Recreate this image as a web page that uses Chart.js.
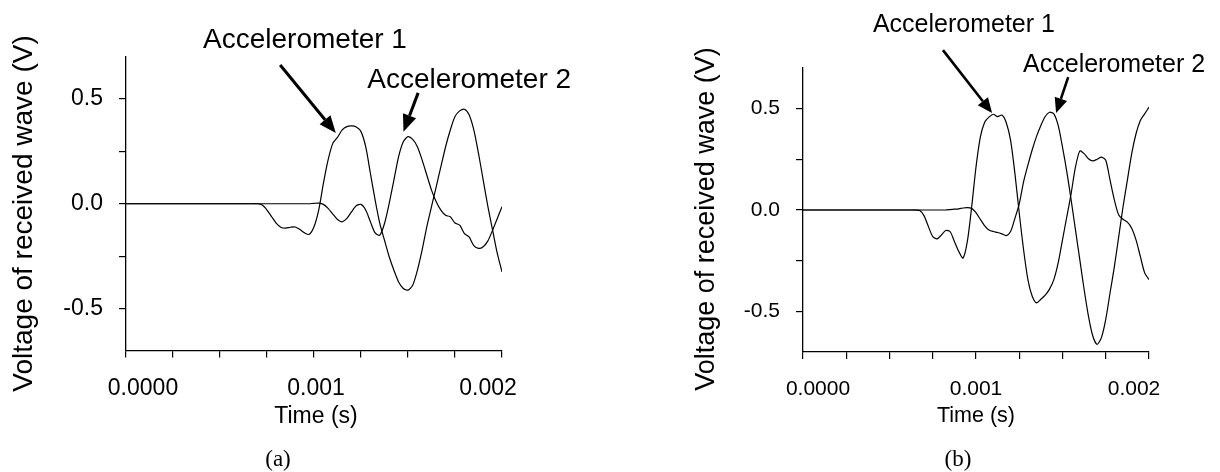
<!DOCTYPE html>
<html>
<head>
<meta charset="utf-8">
<script src="https://cdn.jsdelivr.net/npm/chart.js@4.4.0/dist/chart.umd.min.js"></script>
<style>
  body { margin: 0; background: #fff; width: 1220px; height: 472px; position: relative; overflow: hidden; }
  .box { position: absolute; top: 0; height: 472px; }
  #boxA { left: 0; width: 600px; }
  #boxB { left: 600px; width: 620px; }
</style>
</head>
<body>
<div class="box" id="boxA"><canvas id="chartA"></canvas></div>
<div class="box" id="boxB"><canvas id="chartB"></canvas></div>
<script>
// time samples (s), shared by both panels
var timeGrid = [0, 0.0006, 0.000625, 0.00065, 0.000675, 0.0007, 0.000725, 0.00075, 0.000775, 0.0008,
  0.000825, 0.00085, 0.000875, 0.0009, 0.000925, 0.00095, 0.000975, 0.001, 0.001025, 0.00105,
  0.001075, 0.0011, 0.001125, 0.00115, 0.001175, 0.0012, 0.001225, 0.00125, 0.001275, 0.0013,
  0.001325, 0.00135, 0.001375, 0.0014, 0.001425, 0.00145, 0.001475, 0.0015, 0.001525, 0.00155,
  0.001575, 0.0016, 0.001625, 0.00165, 0.001675, 0.0017, 0.001725, 0.00175, 0.001775, 0.0018,
  0.001825, 0.00185, 0.001875, 0.0019, 0.001925, 0.00195, 0.001975, 0.002];

// panel (a)
var voltA1 = [0, 0, 0, 0, 0, 0, -0.006, -0.03, -0.062, -0.094,
  -0.113, -0.116, -0.112, -0.111, -0.123, -0.139, -0.146, -0.11, -0.03, 0.097,
  0.209, 0.288, 0.317, 0.352, 0.368, 0.371, 0.366, 0.344, 0.272, 0.145,
  0.018, -0.094, -0.174, -0.253, -0.317, -0.373, -0.404, -0.412, -0.389, -0.317,
  -0.221, -0.11, -0.014, 0.081, 0.177, 0.272, 0.352, 0.416, 0.443, 0.451,
  0.424, 0.352, 0.24, 0.113, -0.014, -0.126, -0.237, -0.325];
var voltA2 = [0, 0, 0, 0, 0, 0, 0, 0, 0, 0,
  0, 0, 0, 0, 0, 0, 0, 0.002, 0.003, -0.003,
  -0.022, -0.049, -0.075, -0.086, -0.07, -0.038, -0.01, -0.003, -0.03, -0.086,
  -0.139, -0.15, -0.094, 0.002, 0.113, 0.225, 0.296, 0.32, 0.307, 0.272,
  0.209, 0.137, 0.065, 0.01, -0.03, -0.055, -0.062, -0.092, -0.102, -0.142,
  -0.158, -0.2, -0.213, -0.205, -0.177, -0.126, -0.07, -0.014];

// panel (b)
var voltB1 = [0, 0, 0, 0, -0.003, -0.029, -0.082, -0.131, -0.142, -0.123,
  -0.101, -0.106, -0.155, -0.204, -0.237, -0.155, 0.016, 0.212, 0.359, 0.433,
  0.458, 0.472, 0.46, 0.468, 0.43, 0.343, 0.18, -0.016, -0.196, -0.343,
  -0.425, -0.458, -0.44, -0.42, -0.39, -0.343, -0.261, -0.147, -0.033, 0.082,
  0.212, 0.291, 0.278, 0.253, 0.242, 0.25, 0.261, 0.245, 0.147, 0.049,
  -0.025, -0.046, -0.06, -0.09, -0.147, -0.229, -0.31, -0.343];
var voltB2 = [0, 0, 0, 0, 0, 0, 0, 0, 0, 0,
  0, 0.002, 0.004, 0.006, 0.01, 0.012, 0.008, -0.013, -0.046, -0.078,
  -0.098, -0.106, -0.111, -0.118, -0.126, -0.106, -0.041, 0.03, 0.139, 0.221,
  0.297, 0.363, 0.417, 0.461, 0.482, 0.474, 0.417, 0.31, 0.188, 0.049,
  -0.098, -0.245, -0.392, -0.523, -0.621, -0.662, -0.629, -0.539, -0.408, -0.278,
  -0.131, 0.016, 0.147, 0.278, 0.376, 0.441, 0.474, 0.507];

// axes
var xTickValues = [0, 0.00025, 0.0005, 0.00075, 0.001, 0.00125, 0.0015, 0.00175, 0.002];
var xLabelValues = [0, 0.001, 0.002];
var xLabelTexts = ['0.0000', '0.001', '0.002'];
var yTickValues = [-0.5, -0.25, 0, 0.25, 0.5];
var yLabelValues = [-0.5, 0, 0.5];
var yLabelTexts = ['-0.5', '0.0', '0.5'];

var SANS = '"Liberation Sans", Arial, sans-serif';
var SERIF = '"Liberation Serif", "Times New Roman", serif';

function arrow(ctx, x0, y0, x1, y1, lw, headLen, headHalf) {
  var ang = Math.atan2(y1 - y0, x1 - x0);
  var bx = x1 - headLen * Math.cos(ang), by = y1 - headLen * Math.sin(ang);
  ctx.lineWidth = lw;
  ctx.beginPath(); ctx.moveTo(x0, y0); ctx.lineTo(bx, by); ctx.stroke();
  ctx.beginPath();
  ctx.moveTo(x1, y1);
  ctx.lineTo(bx + headHalf * Math.sin(ang), by - headHalf * Math.cos(ang));
  ctx.lineTo(bx - headHalf * Math.sin(ang), by + headHalf * Math.cos(ang));
  ctx.closePath(); ctx.fill();
}

// texts, arrows and captions drawn on top of each panel
var decorPlugin = {
  id: 'decor',
  afterDraw: function (chart, args, o) {
    var ctx = chart.ctx, xs = chart.scales.x, ys = chart.scales.y;
    ctx.save();
    ctx.fillStyle = '#000'; ctx.strokeStyle = '#000';
    // x tick labels
    ctx.font = o.tickSize + 'px ' + SANS;
    ctx.textAlign = 'center'; ctx.textBaseline = 'alphabetic';
    xLabelValues.forEach(function (v, i) {
      ctx.fillText(xLabelTexts[i], xs.getPixelForValue(v) + o.xLabelShift[i], xs.top + o.xLabelDrop);
    });
    // x title
    ctx.font = o.xTitleSize + 'px ' + SANS;
    ctx.fillText('Time (s)', (xs.left + xs.right) / 2 + o.xTitleShift, xs.top + o.xTitleDrop);
    // y title
    ctx.save();
    ctx.translate(o.yTitleX, o.yTitleY);
    ctx.rotate(-Math.PI / 2);
    ctx.font = o.yTitleSize + 'px ' + SANS;
    ctx.textBaseline = 'middle';
    ctx.fillText('Voltage of received wave (V)', 0, 0);
    ctx.restore();
    // annotations
    ctx.font = o.noteSize + 'px ' + SANS;
    ctx.textAlign = 'left';
    o.notes.forEach(function (n) {
      ctx.fillText(n.text, xs.getPixelForValue(n.t), ys.getPixelForValue(n.v));
    });
    o.arrows.forEach(function (a) {
      arrow(ctx, xs.getPixelForValue(a.from[0]), ys.getPixelForValue(a.from[1]),
        xs.getPixelForValue(a.to[0]), ys.getPixelForValue(a.to[1]), o.arrowWidth, o.headLen, o.headHalf);
    });
    // caption
    ctx.font = o.capSize + 'px ' + SERIF;
    ctx.textAlign = 'center';
    ctx.fillText(o.caption, o.capX, 466);
    ctx.restore();
  }
};

function makePanel(id, s1, s2, cfg) {
  var axisGrid = { drawOnChartArea: false, drawTicks: true, tickLength: 7, color: '#000', lineWidth: 1.2 };
  var axisBorder = { display: true, color: '#000', width: 1.3 };
  return new Chart(document.getElementById(id), {
    type: 'line',
    data: {
      datasets: [s1, s2].map(function (vals) {
        return {
          data: timeGrid.map(function (t, i) { return { x: t, y: vals[i] }; }),
          borderColor: '#000', borderWidth: 1.2, pointRadius: 0, tension: 0.25, fill: false
        };
      })
    },
    options: {
      responsive: true, maintainAspectRatio: false, animation: false, devicePixelRatio: 1,
      layout: { padding: cfg.padding },
      plugins: { legend: { display: false }, tooltip: { enabled: false }, decor: cfg.decor },
      scales: {
        x: {
          type: 'linear', min: 0, max: 0.002,
          afterBuildTicks: function (s) { s.ticks = xTickValues.map(function (v) { return { value: v }; }); },
          afterFit: function (s) { s.height = cfg.xAxisHeight; },
          ticks: { display: false },
          grid: axisGrid, border: axisBorder
        },
        y: {
          type: 'linear', min: -0.7, max: 0.7,
          afterBuildTicks: function (s) { s.ticks = yTickValues.map(function (v) { return { value: v }; }); },
          afterFit: function (s) { s.width = cfg.yAxisWidth; },
          ticks: {
            autoSkip: false, color: '#000', padding: 16,
            font: { family: SANS, size: cfg.decor.tickSize },
            callback: function (v) { var i = yLabelValues.indexOf(v); return i < 0 ? '' : yLabelTexts[i]; }
          },
          grid: axisGrid, border: axisBorder
        }
      }
    },
    plugins: [decorPlugin]
  });
}

makePanel('chartA', voltA1, voltA2, {
  padding: { left: 0, top: 57, right: 98, bottom: 0 },
  yAxisWidth: 126, xAxisHeight: 121.5,
  decor: {
    tickSize: 23, xLabelShift: [17, 2, -14], xLabelDrop: 44.5,
    xTitleSize: 23, xTitleShift: 2, xTitleDrop: 72.5,
    yTitleSize: 28, yTitleX: 24, yTitleY: 213.5,
    noteSize: 28, arrowWidth: 3, headLen: 17, headHalf: 7,
    notes: [
      { text: 'Accelerometer 1', t: 0.00041, v: 0.745 },
      { text: 'Accelerometer 2', t: 0.001283, v: 0.551 }
    ],
    arrows: [
      { from: [0.00082, 0.662], to: [0.001116, 0.338] },
      { from: [0.001554, 0.529], to: [0.001476, 0.344] }
    ],
    caption: '(a)', capSize: 23, capX: 278
  }
});

makePanel('chartB', voltB1, voltB2, {
  padding: { left: 0, top: 68, right: 71, bottom: 0 },
  yAxisWidth: 203, xAxisHeight: 120,
  decor: {
    tickSize: 21, xLabelShift: [15, 0, -15], xLabelDrop: 43,
    xTitleSize: 21.5, xTitleShift: 0, xTitleDrop: 70,
    yTitleSize: 27, yTitleX: 107, yTitleY: 219,
    noteSize: 25, arrowWidth: 2.6, headLen: 15, headHalf: 6.5,
    notes: [
      { text: 'Accelerometer 1', t: 0.000404, v: 0.878 },
      { text: 'Accelerometer 2', t: 0.001272, v: 0.681 }
    ],
    arrows: [
      { from: [0.000809, 0.788], to: [0.001093, 0.478] },
      { from: [0.001533, 0.655], to: [0.001463, 0.478] }
    ],
    caption: '(b)', capSize: 23, capX: 358
  }
});
</script>
</body>
</html>
